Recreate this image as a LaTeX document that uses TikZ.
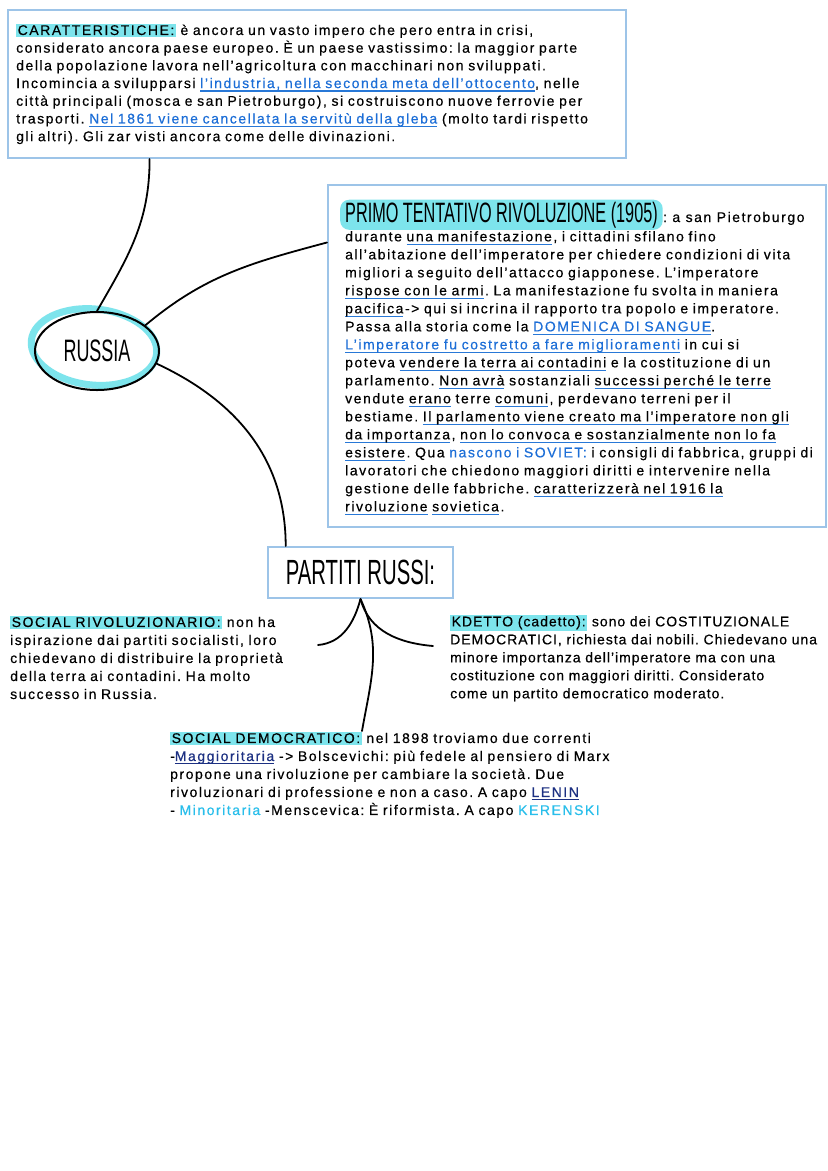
\documentclass[tikz,border=0pt]{standalone}
\usepackage{fontspec}
\setmainfont{Liberation Sans}[LetterSpace=11, FakeBold=0.4]
\newfontfamily\titlefont[FakeStretch=0.58]{Liberation Sans}
\usetikzlibrary{positioning, fit, calc, shapes.geometric}

\definecolor{boxblue}{RGB}{157,196,232}
\definecolor{hlcyan}{RGB}{125,228,236}
\definecolor{linkblue}{RGB}{28,110,215}
\definecolor{ulblue}{RGB}{40,120,215}
\definecolor{navytxt}{RGB}{28,48,130}
\definecolor{cyantxt}{RGB}{40,190,235}

\newlength\ulw
\newcommand\hl[1]{{\setlength{\fboxsep}{1.5pt}\colorbox{hlcyan}{#1}}}
\newcommand\bul[1]{\leavevmode\settowidth{\ulw}{#1}\rlap{\textcolor{ulblue}{\rule[-3.5pt]{\ulw}{1.1pt}}}#1}
\newcommand\nul[1]{\leavevmode\settowidth{\ulw}{#1}\rlap{\textcolor{navytxt}{\rule[-3.5pt]{\ulw}{1.1pt}}}#1}
\newcommand\lnk[1]{\textcolor{linkblue}{\bul{#1}}}
\frenchspacing

\begin{document}
\begin{tikzpicture}[
  x=1pt, y=1pt,
  box/.style={draw=boxblue, line width=2pt, inner sep=0pt},
  txt/.style={align=left, inner sep=0pt, anchor=north west, text width=#1pt,
              font=\fontsize{14}{18}\selectfont},
  hlbar/.style={fill=hlcyan, rounded corners=9pt, inner xsep=5pt, inner ysep=2pt,
                font=\titlefont\fontsize{28}{28}\selectfont},
  link/.style={line width=1.8pt, line cap=round}
]
\fill[white] (0,0) rectangle (828,-1171);
\useasboundingbox (0,0) rectangle (828,-1171);

% Caratteristiche
\node[box, fit={(8,-10) (626,-158)}] (carbox) {};
\node[txt=700, font=\fontsize{14}{17.7}\selectfont] (cartxt) at (16,-23.5) {\hl{CARATTERISTICHE:} è ancora un vasto impero che pero entra in crisi,\\
considerato ancora paese europeo. È un paese vastissimo: la maggior parte\\
della popolazione lavora nell'agricoltura con macchinari non sviluppati.\\
Incomincia a svilupparsi \lnk{l'industria, nella seconda meta dell'ottocento}, nelle\\
città principali (mosca e san Pietroburgo), si costruiscono nuove ferrovie per\\
trasporti. \lnk{Nel 1861 viene cancellata la servitù della gleba} (molto tardi rispetto\\
gli altri). Gli zar visti ancora come delle divinazioni.};

% Russia
\draw[hlcyan, line width=7pt, rotate around={-6:(94,-347)}] (94,-347) ellipse [x radius=63, y radius=38];
\node[draw, ellipse, line width=2pt, minimum width=124pt, minimum height=78pt, inner sep=0pt,
      font=\titlefont\fontsize{31}{31}\selectfont] (russia) at (97,-351) {RUSSIA};

% Primo tentativo
\node[box, fit={(328,-185) (826,-527)}] (primobox) {};
\node[hlbar, anchor=base west] (primo) at (340,-222) {PRIMO TENTATIVO RIVOLUZIONE (1905)};
\node[anchor=base west, inner sep=0pt, font=\fontsize{14}{18}\selectfont] (primosub) at (primo.base east) {: a san Pietroburgo};
\node[txt=470] (primotxt) at (345,-231) {durante \bul{una manifestazione}, i cittadini sfilano fino\\
all'abitazione dell'imperatore per chiedere condizioni di vita\\
migliori a seguito dell'attacco giapponese. L'imperatore\\
\bul{rispose con le armi}. La manifestazione fu svolta in maniera\\
\bul{pacifica}-> qui si incrina il rapporto tra popolo e imperatore.\\
Passa alla storia come la \lnk{DOMENICA DI SANGUE}.\\
\lnk{L'imperatore fu costretto a fare miglioramenti} in cui si\\
poteva \bul{vendere la terra ai contadini} e la costituzione di un\\
parlamento. \bul{Non avrà} sostanziali \bul{successi perché le terre}\\
vendute \bul{erano} terre \bul{comuni}, perdevano terreni per il\\
bestiame. \bul{Il parlamento viene creato ma l'imperatore non gli}\\
\bul{da importanza}, \bul{non lo convoca e sostanzialmente non lo fa}\\
\bul{esistere}. Qua \textcolor{linkblue}{nascono i SOVIET:} i consigli di fabbrica, gruppi di\\
lavoratori che chiedono maggiori diritti e intervenire nella\\
gestione delle fabbriche. \bul{caratterizzerà nel 1916 la}\\
\bul{rivoluzione} \bul{sovietica}.};

% Partiti
\node[box, minimum width=185pt, minimum height=51pt,
      font=\titlefont\fontsize{35}{35}\selectfont] (partiti) at (360.5,-572.5) {PARTITI RUSSI:};

\node[txt=400] (socrev) at (10,-615.5) {\hl{SOCIAL RIVOLUZIONARIO:} non ha\\
ispirazione dai partiti socialisti, loro\\
chiedevano di distribuire la proprietà\\
della terra ai contadini. Ha molto\\
successo in Russia.};

\node[txt=370, font=\fontsize{14}{18}\selectfont\addfontfeature{LetterSpace=7}] (kdetto) at (450,-614.5) {\hl{KDETTO (cadetto):} sono dei COSTITUZIONALE\\
DEMOCRATICI, richiesta dai nobili. Chiedevano una\\
minore importanza dell'imperatore ma con una\\
costituzione con maggiori diritti. Considerato\\
come un partito democratico moderato.};

\node[txt=600] (socdem) at (170,-731.5) {\hl{SOCIAL DEMOCRATICO:} nel 1898 troviamo due correnti\\
-\textcolor{navytxt}{\nul{Maggioritaria}} -> Bolscevichi: più fedele al pensiero di Marx\\
propone una rivoluzione per cambiare la società. Due\\
rivoluzionari di professione e non a caso. A capo \textcolor{navytxt}{\nul{LENIN}}\\
- \textcolor{cyantxt}{Minoritaria} -Menscevica: È riformista. A capo \textcolor{cyantxt}{KERENSKI}};

\coordinate (srend) at (318,-645);
\coordinate (kdend) at (433,-646);
\coordinate (sdend) at (362,-731);

% connectors
\draw[link] ($(carbox.south west)!0.23!(carbox.south east)$) to[out=-90,in=60] (russia.north);
\draw[link] (russia.28) to[out=40,in=195] ($(primobox.north west)!0.17!(primobox.south west)$);
\draw[link] (russia.-12) to[out=-25,in=90] ($(partiti.north west)!0.1!(partiti.north east)$);
\draw[link] (partiti.south) to[out=-105,in=5] (srend);
\draw[link] (partiti.south) to[out=-75,in=175] (kdend);
\draw[link] (partiti.south) to[out=-65,in=80] (sdend);

\end{tikzpicture}
\end{document}
